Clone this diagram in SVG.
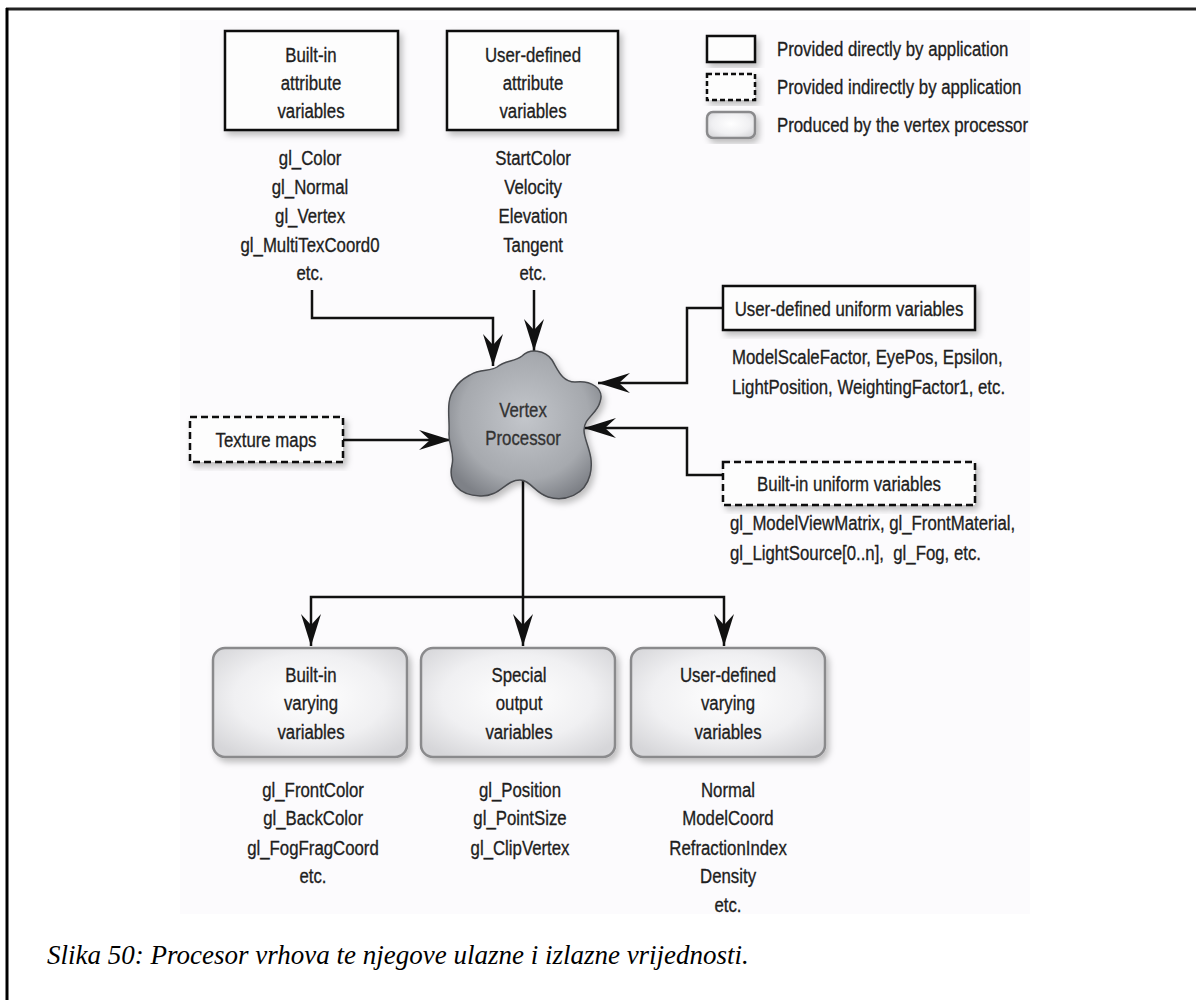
<svg xmlns="http://www.w3.org/2000/svg" width="1196" height="1000" viewBox="0 0 1196 1000">
  <defs>
    <style>
      .t { font-family: "Liberation Sans", Arial, sans-serif; font-size: 21px; fill: #1e1e1e; stroke: #1e1e1e; stroke-width: 0.35;
           transform-box: fill-box; transform-origin: 50% 50%; transform: scaleX(0.8); }
      .c { text-anchor: middle; }
      .l { transform-origin: 0% 50%; }
      .solid { fill: #fdfdfd; stroke: #111; stroke-width: 2.5; }
      .dash { fill: #fdfdfd; stroke: #111; stroke-width: 2.5; stroke-dasharray: 7 4; }
      .out { fill: url(#outFill); stroke: #8a8a8c; stroke-width: 2.5; }
      .wire { fill: none; stroke: #111; stroke-width: 2.5; }
      .cap { font-family: "Liberation Serif", serif; font-style: italic; font-size: 27px; fill: #000; }
    </style>
    <radialGradient id="outFill" cx="50%" cy="45%" r="65%">
      <stop offset="0" stop-color="#ffffff"/>
      <stop offset="0.6" stop-color="#f0f0f2"/>
      <stop offset="1" stop-color="#d6d6d9"/>
    </radialGradient>
    <radialGradient id="cloudFill" cx="50%" cy="45%" r="60%">
      <stop offset="0" stop-color="#c3c6cb"/>
      <stop offset="0.7" stop-color="#a6a9ae"/>
      <stop offset="1" stop-color="#7e8187"/>
    </radialGradient>
    <filter id="shadow" x="-20%" y="-20%" width="140%" height="140%">
      <feDropShadow dx="3" dy="4" stdDeviation="3" flood-color="#000" flood-opacity="0.25"/>
    </filter>
    <marker id="arrow" markerUnits="userSpaceOnUse" viewBox="-32 -11 34 22" markerWidth="34" markerHeight="22" refX="0" refY="0" orient="auto-start-reverse">
      <path d="M0 0 L-32 -10 L-21 0 L-32 10 Z" fill="#111"/>
    </marker>
  </defs>

  <!-- page frame -->
  <rect x="0" y="0" width="1196" height="1000" fill="#ffffff"/>
  <rect x="180" y="20" width="850" height="894" fill="#fcfbfd"/>
  <line x1="6" y1="9" x2="1196" y2="9" stroke="#222" stroke-width="3"/>
  <line x1="7" y1="8" x2="7" y2="1000" stroke="#000" stroke-width="3"/>

  <!-- connectors -->
  <g id="connectors">
    <path class="wire" d="M312 290 V318 H493 V366" marker-end="url(#arrow)"/>
    <path class="wire" d="M534 290 V351" marker-end="url(#arrow)"/>
    <path class="wire" d="M723 308 H687 V383 H598" marker-end="url(#arrow)"/>
    <path class="wire" d="M723 475 H687 V428 H584" marker-end="url(#arrow)"/>
    <path class="wire" d="M343 440 H451" marker-end="url(#arrow)"/>
    <path class="wire" d="M523 478 V646" marker-end="url(#arrow)"/>
    <path class="wire" d="M311 646 V597 H724 V646" marker-start="url(#arrow)" marker-end="url(#arrow)"/>
  </g>

  <!-- legend -->
  <g id="legend">
    <rect class="solid" x="707" y="36" width="48" height="26" filter="url(#shadow)"/>
    <rect class="dash" x="707" y="74" width="48" height="26" style="stroke-dasharray:5 3" filter="url(#shadow)"/>
    <rect class="out" x="707" y="112" width="48" height="26" rx="6" filter="url(#shadow)"/>
    <text class="t l" x="777" y="56">Provided directly by application</text>
    <text class="t l" x="777" y="94">Provided indirectly by application</text>
    <text class="t l" x="777" y="132">Produced by the vertex processor</text>
  </g>

  <!-- input nodes -->
  <g id="builtin-attributes">
    <rect class="solid" x="225" y="31" width="173" height="99" filter="url(#shadow)"/>
    <text class="t c" x="311" y="62">Built-in</text>
    <text class="t c" x="311" y="90">attribute</text>
    <text class="t c" x="311" y="118">variables</text>
    <text class="t c" x="310" y="165">gl_Color</text>
    <text class="t c" x="310" y="194">gl_Normal</text>
    <text class="t c" x="310" y="223">gl_Vertex</text>
    <text class="t c" x="310" y="252">gl_MultiTexCoord0</text>
    <text class="t c" x="310" y="280">etc.</text>
  </g>

  <g id="user-attributes">
    <rect class="solid" x="447" y="31" width="171" height="99" filter="url(#shadow)"/>
    <text class="t c" x="533" y="62">User-defined</text>
    <text class="t c" x="533" y="90">attribute</text>
    <text class="t c" x="533" y="118">variables</text>
    <text class="t c" x="533" y="165">StartColor</text>
    <text class="t c" x="533" y="194">Velocity</text>
    <text class="t c" x="533" y="223">Elevation</text>
    <text class="t c" x="533" y="252">Tangent</text>
    <text class="t c" x="533" y="280">etc.</text>
  </g>

  <g id="user-uniforms">
    <rect class="solid" x="723" y="286" width="252" height="44" filter="url(#shadow)"/>
    <text class="t c" x="849" y="316">User-defined uniform variables</text>
    <text class="t l" x="732" y="364">ModelScaleFactor, EyePos, Epsilon,</text>
    <text class="t l" x="732" y="394">LightPosition, WeightingFactor1, etc.</text>
  </g>

  <g id="builtin-uniforms">
    <rect class="dash" x="723" y="462" width="252" height="43" filter="url(#shadow)"/>
    <text class="t c" x="849" y="491">Built-in uniform variables</text>
    <text class="t l" x="730" y="530">gl_ModelViewMatrix, gl_FrontMaterial,</text>
    <text class="t l" x="730" y="560" xml:space="preserve">gl_LightSource[0..n],  gl_Fog, etc.</text>
  </g>

  <g id="texture-maps">
    <rect class="dash" x="190" y="417" width="153" height="45" filter="url(#shadow)"/>
    <text class="t c" x="266" y="447">Texture maps</text>
  </g>

  <!-- processor -->
  <g id="vertex-processor">
    <path d="M470 375 C480 368 490 372 497 367 C505 360 515 362 522 356 C530 348 545 350 552 360 C558 370 562 382 575 382 C590 380 605 388 600 402 C597 414 584 418 584 430 C584 442 595 455 590 475 C585 495 565 502 548 497 C535 493 530 480 520 480 C505 480 500 497 480 496 C458 495 448 482 452 465 C455 452 448 445 449 432 C450 418 445 400 455 388 C460 380 465 378 470 375 Z" fill="url(#cloudFill)" stroke="#4a4c50" stroke-width="1.5" filter="url(#shadow)"/>
    <text class="t c" x="523" y="417" style="fill:#333;stroke:#333">Vertex</text>
    <text class="t c" x="523" y="445" style="fill:#333;stroke:#333">Processor</text>
  </g>

  <!-- output nodes -->
  <g id="builtin-varyings">
    <rect class="out" x="213" y="648" width="194" height="109" rx="12" filter="url(#shadow)"/>
    <text class="t c" x="311" y="682">Built-in</text>
    <text class="t c" x="311" y="710">varying</text>
    <text class="t c" x="311" y="739">variables</text>
    <text class="t c" x="313" y="797">gl_FrontColor</text>
    <text class="t c" x="313" y="825">gl_BackColor</text>
    <text class="t c" x="313" y="855">gl_FogFragCoord</text>
    <text class="t c" x="313" y="883">etc.</text>
  </g>

  <g id="special-outputs">
    <rect class="out" x="421" y="648" width="194" height="109" rx="12" filter="url(#shadow)"/>
    <text class="t c" x="519" y="682">Special</text>
    <text class="t c" x="519" y="710">output</text>
    <text class="t c" x="519" y="739">variables</text>
    <text class="t c" x="520" y="797">gl_Position</text>
    <text class="t c" x="520" y="825">gl_PointSize</text>
    <text class="t c" x="520" y="855">gl_ClipVertex</text>
  </g>

  <g id="user-varyings">
    <rect class="out" x="631" y="648" width="194" height="109" rx="12" filter="url(#shadow)"/>
    <text class="t c" x="728" y="682">User-defined</text>
    <text class="t c" x="728" y="710">varying</text>
    <text class="t c" x="728" y="739">variables</text>
    <text class="t c" x="728" y="797">Normal</text>
    <text class="t c" x="728" y="825">ModelCoord</text>
    <text class="t c" x="728" y="855">RefractionIndex</text>
    <text class="t c" x="728" y="883">Density</text>
    <text class="t c" x="728" y="912">etc.</text>
  </g>

  <!-- caption -->
  <text class="cap" x="47" y="964">Slika 50: Procesor vrhova te njegove ulazne i izlazne vrijednosti.</text>
</svg>
